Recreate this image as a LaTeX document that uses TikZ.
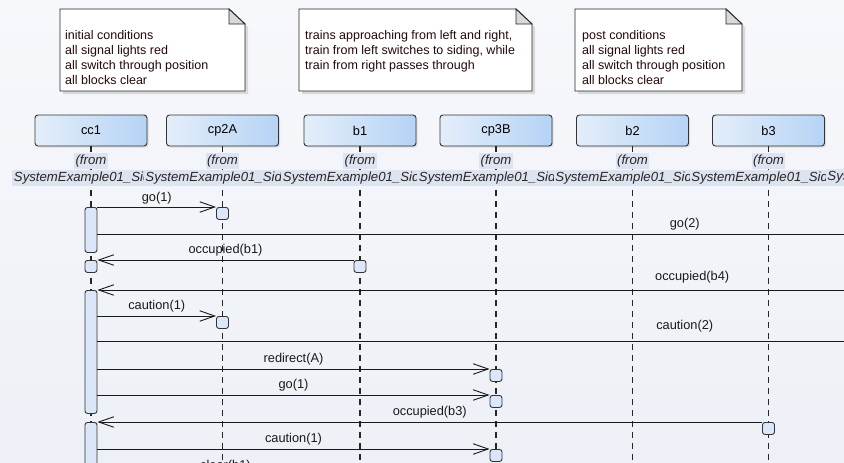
\documentclass[tikz,border=0pt]{standalone}
\usepackage{fontspec}
\setmainfont{Liberation Sans}
\usetikzlibrary{arrows.meta,positioning,shadows}

\definecolor{bgtop}{HTML}{F7F8FC}
\definecolor{bgbot}{HTML}{EDF0F6}
\definecolor{headL}{HTML}{E4EEFA}
\definecolor{headR}{HTML}{B6D3F5}
\definecolor{actfill}{HTML}{DBE7F8}
\definecolor{frombg}{HTML}{DEE3F0}
\definecolor{foldgray}{HTML}{D9D9D9}
\definecolor{notetext}{HTML}{240808}

\begin{document}
\begin{tikzpicture}[x=1pt,y=-1pt,
    every node/.style={font=\fontsize{12.8}{15}\selectfont},
    lifehead/.style={draw=black!80,line width=0.9pt,rounded corners=3pt,
        left color=headL,right color=headR,minimum width=112pt,
        minimum height=31pt,inner sep=0pt,
        drop shadow={shadow xshift=1.5pt,shadow yshift=-1.5pt,opacity=.2}},
    fromtag/.style={fill=frombg,font=\fontsize{13.2}{15}\selectfont\itshape,
        inner xsep=1.5pt,inner ysep=0pt,minimum height=16.5pt,text=black!85},
    life/.style={black!85,line width=1.1pt,dash pattern=on 6pt off 5pt},
    act/.style={draw=black!80,line width=0.9pt,fill=actfill,rounded corners=2.5pt,
        minimum width=12pt,minimum height=12pt,inner sep=0pt,anchor=north},
    msg/.style={black!90,line width=0.9pt,-{Straight Barb[length=15pt,width=10.5pt]}},
    lbl/.style={inner sep=0pt,above=3.6pt,text=black!90},
    note/.style={draw=black!85,fill=white,line width=0.9pt},
    notetxt/.style={anchor=base west,align=left,inner sep=0pt,text=notetext,
        font=\fontsize{12.5}{15}\selectfont}
]
\useasboundingbox (0,0) rectangle (844,463);
\clip (0,0) rectangle (844,463);
\shade[top color=bgtop,bottom color=bgbot] (0,0) rectangle (844,463);

% notes
\foreach \xa/\xb in {60/245,299/532,575/742}{
    \fill[black!15] (\xa+3,12) -- (\xb-13,12) -- (\xb+3,27) -- (\xb+3,94) -- (\xa+3,94) -- cycle;
    \draw[note] (\xa,9) -- (\xb-16,9) -- (\xb,24) -- (\xb,91) -- (\xa,91) -- cycle;
    \draw[note,fill=foldgray] (\xb-16,9) -- (\xb-16,24) -- (\xb,24) -- cycle;
}
% base of a multi-line node is its last line
\node[notetxt] (pre) at (65,84.5) {initial conditions\\all signal lights red\\all switch through position\\all blocks clear};
\node[notetxt] (scene) at (305,69.5) {trains approaching from left and right,\\train from left switches to siding, while\\train from right passes through};
\node[notetxt] (post) at (582,84.5) {post conditions\\all signal lights red\\all switch through position\\all blocks clear};

% lifelines
\node[lifehead] (cc1) at (91,130.5) {cc1};
\node[lifehead] (cp2A) at (222.5,130.5) {cp2A};
\node[lifehead] (b1) at (360,130.5) {b1};
\node[lifehead] (cp3B) at (496,130.5) {cp3B};
\node[lifehead] (b2) at (632.5,130.5) {b2};
\node[lifehead] (b3) at (768.5,130.5) {b3};
\coordinate (bot) at (0,470);
\foreach \n in {cc1,cp2A,b1,cp3B,b2,b3}{
    \draw[life] (\n.south) -- (\n.south |- bot);
}
\foreach \n in {cc1,cp2A,b1,cp3B,b2,b3}{
    \node[fromtag,below=6pt of \n] (\n-f) {(from};
    \node[fromtag,below=0pt of \n-f] (\n-s) {SystemExample01\_Siding};
}
\node[fromtag] (b4-s) at (904.5,176.8) {SystemExample01\_Siding};

% activations
\node[act,minimum height=45pt] (a1) at (91,207) {};
\node[act] (a2) at (91,260) {};
\node[act,minimum height=123pt] (a3) at (91,290) {};
\node[act,minimum height=60pt] (a4) at (91,422) {};
\node[act] (r1) at (222.5,207) {};
\node[act] (r2) at (360,260) {};
\node[act] (r3) at (222.5,316) {};
\node[act] (r4) at (496,369) {};
\node[act] (r5) at (496,395) {};
\node[act] (r6) at (768.5,422) {};
\node[act] (r7) at (496,449) {};
\node[act] (r8) at (360,476) {};
\coordinate (e1) at (920,234);
\coordinate (e2) at (920,290);
\coordinate (e3) at (920,341);

% messages
\draw[msg] (a1.north east) -- (r1.north west) node[lbl,midway,above=2.2pt] {go(1)};
\draw[msg] (a1.east |- e1) -- (e1) node[lbl,pos=.714] {go(2)};
\draw[msg] (r2.north west) -- (a2.north east) node[lbl,midway,above=3pt] {occupied(b1)};
\draw[msg] (e2) -- (a3.north east) node[lbl,pos=.277,above=6pt] {occupied(b4)};
\draw[msg] (a3.east |- r3.north) -- (r3.north west) node[lbl,midway] {caution(1)};
\draw[msg] (a3.east |- e3) -- (e3) node[lbl,pos=.714,above=8pt] {caution(2)};
\draw[msg] (a3.east |- r4.north) -- (r4.north west) node[lbl,midway] {redirect(A)};
\draw[msg] (a3.east |- r5.north) -- (r5.north west) node[lbl,midway,above=3pt] {go(1)};
\draw[msg] (r6.north west) -- (a4.north east) node[lbl,midway] {occupied(b3)};
\draw[msg] (a4.east |- r7.north) -- (r7.north west) node[lbl,midway] {caution(1)};
\draw[msg] (a4.east |- r8.north) -- (r8.north west) node[lbl,midway] {clear(b1)};
\end{tikzpicture}
\end{document}
